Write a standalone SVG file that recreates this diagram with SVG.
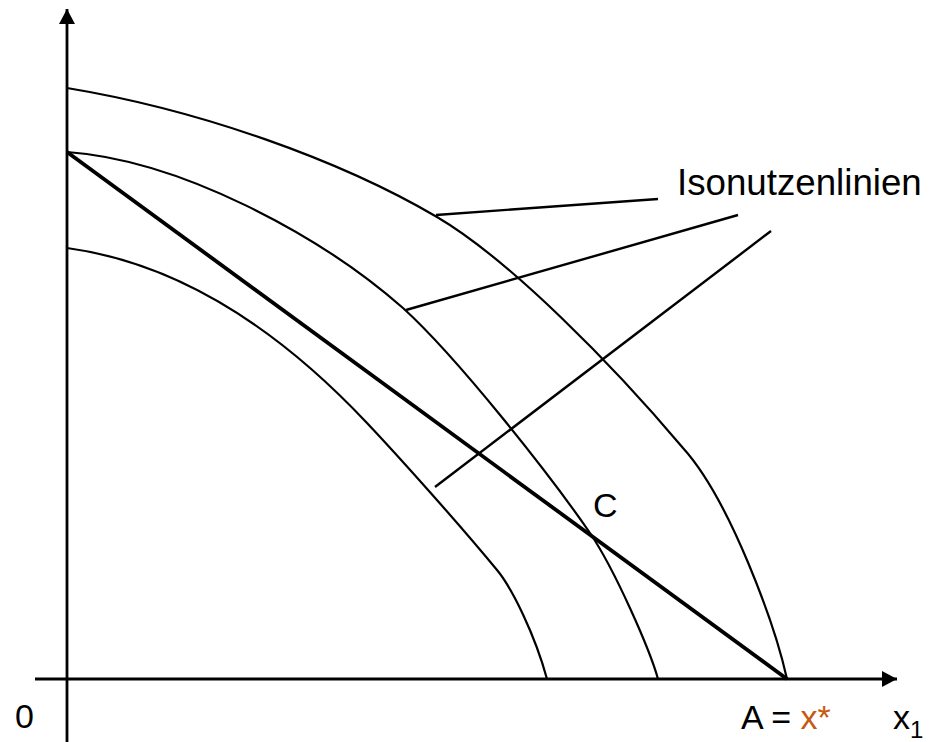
<svg xmlns="http://www.w3.org/2000/svg" width="929" height="742" viewBox="0 0 929 742">
<style>
.ax{stroke:#000;stroke-width:2.8;fill:none}
.cv{stroke:#000;stroke-width:2.2;fill:none}
.bud{stroke:#000;stroke-width:3.8;fill:none}
.ld{stroke:#000;stroke-width:2.4;fill:none}
text{font-family:"Liberation Sans",Arial,sans-serif;font-size:34px;fill:#000}
</style>
<defs>
<marker id="arr" markerWidth="16" markerHeight="16" refX="15" refY="8" orient="auto" markerUnits="userSpaceOnUse">
<path d="M0,0 L15,8 L0,16 Z" fill="#000"/>
</marker>
</defs>
<g id="axes">
<line class="ax" x1="67" y1="742" x2="67" y2="9" marker-end="url(#arr)"/>
<line class="ax" x1="35" y1="679" x2="897" y2="679" marker-end="url(#arr)"/>
</g>
<g id="curve-outer"><path class="cv" d="M67,88 C200,110 340,160 437,217 C510,260 613,365 683,448 C730,500 775,625 787,679"/></g>
<g id="curve-middle"><path class="cv" d="M67,152 C180,160 320,235 403,308 C458,358 550,475 590,533 C615,570 650,650 658,679"/></g>
<g id="curve-inner"><path class="cv" d="M67,248 C170,262 270,320 367,423 C400,458 460,525 497,570 C512,588 535,635 547,679"/></g>
<g id="budget"><line class="bud" x1="67" y1="152" x2="787" y2="679"/></g>
<g id="connectors">
<line class="ld" x1="436" y1="215" x2="658" y2="199"/>
<line class="ld" x1="406" y1="310" x2="738" y2="215"/>
<line class="ld" x1="435" y1="487" x2="771" y2="231"/>
</g>
<g id="labels">
<text x="677" y="195" style="font-size:36.7px">Isonutzenlinien</text>
<text x="593" y="517">C</text>
<text x="15" y="728">0</text>
<text x="741" y="729">A = <tspan fill="#C55A11">x*</tspan></text>
<text x="893" y="729">x<tspan style="font-size:24px" dy="9">1</tspan></text>
</g>
</svg>
